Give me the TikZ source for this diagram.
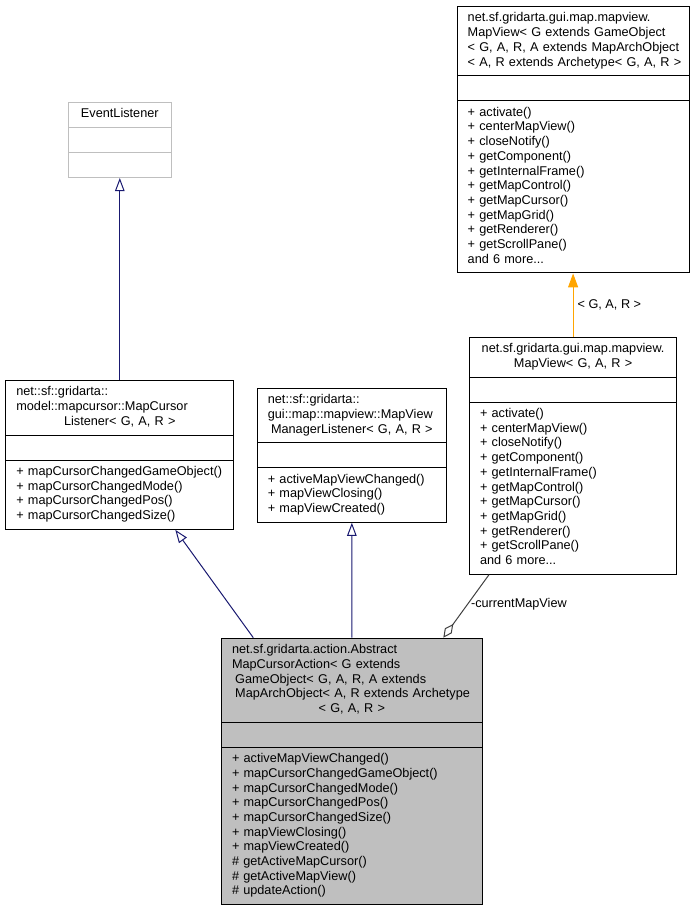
\documentclass[tikz,border=0pt]{standalone}
\usepackage{fontspec}
\setmainfont{Liberation Sans}
\usepackage{xcolor}
\usepackage{tikz}
\usetikzlibrary{shapes,arrows.meta,positioning,calc}

\definecolor{edgeblue}{HTML}{191970}
\definecolor{boxgray}{HTML}{BFBFBF}
\definecolor{linkgray}{HTML}{404040}
\definecolor{tmplorange}{HTML}{FFA500}

\newcommand{\ctr}[1]{\makebox[\hsize]{#1}}
\newcommand{\ind}{\hspace*{3.2pt}}

\begin{document}
\begin{tikzpicture}[x=1pt, y=-1pt,
    font=\fontsize{12.7}{14.7}\selectfont,
    umlclass/.style={draw, line width=1pt, rectangle split, rectangle split parts=3,
        rectangle split ignore empty parts=false, anchor=north west,
        inner xsep=10.5pt, inner ysep=4.7pt, align=left},
    inherit/.style={edgeblue, line width=1pt, -{Triangle[open, length=13pt, width=9.5pt]}},
    tmpl/.style={tmplorange, line width=1pt, -{Triangle[length=14pt, width=10pt]}},
    usage/.style={linkgray, line width=1pt, -{Diamond[open, length=17pt, width=8.5pt]}}]
    \useasboundingbox (0,0) rectangle (694,911);

    % Interfaces
    \node[umlclass, draw=boxgray, text width=82.5pt] (evl) at (67.55,101.7)
        {\strut\ctr{EventListener}\strut \nodepart{two}\strut \nodepart{three}\strut};
    \node[umlclass, text width=207pt] (mcl) at (5.3,380)
        {\strut net::sf::gridarta::\\ model::mapcursor::MapCursor\\ \ctr{Listener< G, A, R >}\strut
        \nodepart{two}\strut
        \nodepart{three}\strut + mapCursorChangedGameObject()\\ + mapCursorChangedMode()\\
        + mapCursorChangedPos()\\ + mapCursorChangedSize()\strut};
    \node[umlclass, text width=168pt] (mvml) at (256.85,387.7)
        {\strut net::sf::gridarta::\\ gui::map::mapview::MapView\\ \ctr{ManagerListener< G, A, R >}\strut
        \nodepart{two}\strut
        \nodepart{three}\strut + activeMapViewChanged()\\ + mapViewClosing()\\ + mapViewCreated()\strut};

    % Map views
    \node[umlclass, text width=210.8pt] (mvt) at (456.7,6)
        {\strut net.sf.gridarta.gui.map.mapview.\\ \mbox{MapView< G extends GameObject}\\
        \mbox{< G, A, R, A extends MapArchObject}\\ \mbox{< A, R extends Archetype< G, A, R >}\strut
        \nodepart{two}\strut
        \nodepart{three}\strut + activate()\\ + centerMapView()\\ + closeNotify()\\ + getComponent()\\
        + getInternalFrame()\\ + getMapControl()\\ + getMapCursor()\\ + getMapGrid()\\
        + getRenderer()\\ + getScrollPane()\\ and 6 more...\strut};
    \node[umlclass, text width=186.2pt] (mv) at (469,336.7)
        {\strut\ctr{net.sf.gridarta.gui.map.mapview.}\\ \ctr{MapView< G, A, R >}\strut
        \nodepart{two}\strut
        \nodepart{three}\strut + activate()\\ + centerMapView()\\ + closeNotify()\\ + getComponent()\\
        + getInternalFrame()\\ + getMapControl()\\ + getMapCursor()\\ + getMapGrid()\\
        + getRenderer()\\ + getScrollPane()\\ and 6 more...\strut};

    % Action class
    \node[umlclass, fill=boxgray, text width=239.7pt] (abs) at (221,637.7)
        {\strut net.sf.gridarta.action.Abstract\\ MapCursorAction< G extends\\
        \ind\mbox{GameObject< G, A, R, A extends}\\ \ind\mbox{MapArchObject< A, R extends Archetype}\\
        \ctr{< G, A, R >}\strut
        \nodepart{two}\strut
        \nodepart{three}\strut + activeMapViewChanged()\\ + mapCursorChangedGameObject()\\
        + mapCursorChangedMode()\\ + mapCursorChangedPos()\\ + mapCursorChangedSize()\\
        + mapViewClosing()\\ + mapViewCreated()\\ \# getActiveMapCursor()\\
        \# getActiveMapView()\\ \# updateAction()\strut};

    % Inheritance
    \draw[inherit] (mcl.north) -- (evl.south);
    \draw[inherit] ([xshift=32.3pt]abs.north west) -- ([xshift=170pt]mcl.south west);
    \draw[inherit] (abs.north) -- (mvml.south);

    % Template instance
    \draw[tmpl] (mv.north) -- node[right, inner sep=4pt, black] {< G, A, R >} (mvt.south);

    % Member
    \draw[usage] ([xshift=20pt]mv.south west) -- node[right, pos=0.47, inner sep=3pt, black] {-currentMapView}
        ([xshift=222.3pt]abs.north west);
\end{tikzpicture}
\end{document}
